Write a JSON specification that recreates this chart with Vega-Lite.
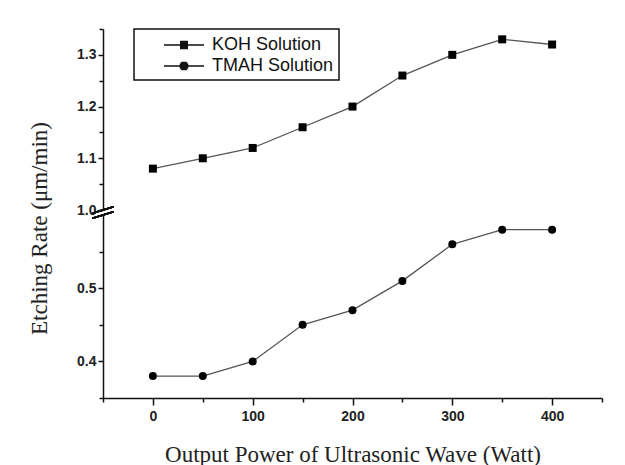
{
  "$schema": "https://vega.github.io/schema/vega-lite/v6.json",
  "padding": {"left": 27, "top": 28, "right": 22, "bottom": 0},
  "background": "white",
  "bounds": "flush",
  "spacing": 5,
  "config": {
    "view": {"stroke": null},
    "legend": {"strokeWidth": 1.5},
    "axis": {
      "grid": false,
      "domainColor": "#111",
      "tickColor": "#111",
      "domainWidth": 1.5,
      "tickWidth": 1.5,
      "labelFont": "Liberation Sans Narrow, Liberation Sans",
      "labelFontSize": 14,
      "labelFontWeight": "bold",
      "labelColor": "#222",
      "titleFont": "Liberation Serif",
      "titleFontSize": 23,
      "titleFontWeight": "normal",
      "titleColor": "#222"
    }
  },
  "datasets": {
    "d": [
      {"power": 0, "rate": 1.08, "series": "KOH Solution"},
      {"power": 50, "rate": 1.10, "series": "KOH Solution"},
      {"power": 100, "rate": 1.12, "series": "KOH Solution"},
      {"power": 150, "rate": 1.16, "series": "KOH Solution"},
      {"power": 200, "rate": 1.20, "series": "KOH Solution"},
      {"power": 250, "rate": 1.26, "series": "KOH Solution"},
      {"power": 300, "rate": 1.30, "series": "KOH Solution"},
      {"power": 350, "rate": 1.33, "series": "KOH Solution"},
      {"power": 400, "rate": 1.32, "series": "KOH Solution"},
      {"power": 0, "rate": 0.38, "series": "TMAH Solution"},
      {"power": 50, "rate": 0.38, "series": "TMAH Solution"},
      {"power": 100, "rate": 0.40, "series": "TMAH Solution"},
      {"power": 150, "rate": 0.45, "series": "TMAH Solution"},
      {"power": 200, "rate": 0.47, "series": "TMAH Solution"},
      {"power": 250, "rate": 0.51, "series": "TMAH Solution"},
      {"power": 300, "rate": 0.56, "series": "TMAH Solution"},
      {"power": 350, "rate": 0.58, "series": "TMAH Solution"},
      {"power": 400, "rate": 0.58, "series": "TMAH Solution"}
    ]
  },
  "vconcat": [
    {
      "width": 499,
      "height": 181,
      "data": {"name": "d"},
      "transform": [{"filter": "datum.series === 'KOH Solution'"}],
      "encoding": {
        "x": {"field": "power", "type": "quantitative", "scale": {"domain": [-50, 450], "nice": false, "zero": false}, "axis": null},
        "y": {
          "field": "rate", "type": "quantitative",
          "scale": {"domain": [1.0, 1.35], "nice": false, "zero": false},
          "axis": {
            "title": null,
            "values": [1.0, 1.05, 1.1, 1.15, 1.2, 1.25, 1.3, 1.35],
            "labelExpr": "round(datum.value*100) % 10 === 0 ? format(datum.value, '.1f') : ''",
            "tickSize": {"expr": "round(datum.value*100) % 10 === 0 ? 5 : 4"},
            "labelPadding": 2
          }
        }
      },
      "layer": [
        {"mark": {"type": "line", "color": "#555", "strokeWidth": 1.3}},
        {"mark": {"type": "point", "shape": "square", "filled": true, "color": "#000", "opacity": 1, "size": 64}},
        {
          "mark": {"type": "point", "filled": false, "color": "#111", "strokeWidth": 1.5, "opacity": 0},
          "encoding": {
            "shape": {
              "field": "series", "type": "nominal",
              "scale": {
                "domain": ["KOH Solution", "TMAH Solution"],
                "range": [
                  "M-2,0H2M-0.4,-0.35H0.4M-0.4,-0.25H0.4M-0.4,-0.15H0.4M-0.4,-0.05H0.4M-0.4,0.05H0.4M-0.4,0.15H0.4M-0.4,0.25H0.4M-0.4,0.35H0.4",
                  "M-2,0H2M-0.28,-0.35H0.28M-0.37,-0.25H0.37M-0.42,-0.15H0.42M-0.45,-0.05H0.45M-0.45,0.05H0.45M-0.42,0.15H0.42M-0.37,0.25H0.37M-0.28,0.35H0.28"
                ]
              },
              "legend": {
                "title": null,
                "orient": "none",
                "legendX": 31,
                "legendY": 0,
                "strokeColor": "#111",
                "padding": 5,
                "rowPadding": 1,
                "symbolSize": 400,
                "symbolOffset": 34,
                "symbolOpacity": 1,
                "symbolStrokeColor": "#111",
                "symbolStrokeWidth": 1.5,
                "labelFont": "Liberation Sans",
                "labelFontSize": 18,
                "labelColor": "#111",
                "labelOffset": 17,
                "labelExpr": "datum.label + '    '"
              }
            }
          }
        },
        {
          "mark": {"type": "point", "shape": "M-1,0.3L1,-0.3", "filled": false, "color": "#111", "strokeWidth": 1.6, "opacity": 1, "size": 440},
          "encoding": {"x": {"datum": -50}, "y": {"datum": 1.0}}
        }
      ]
    },
    {
      "width": 499,
      "height": 183,
      "data": {"name": "d"},
      "transform": [{"filter": "datum.series === 'TMAH Solution'"}],
      "encoding": {
        "x": {
          "field": "power", "type": "quantitative",
          "scale": {"domain": [-50, 450], "nice": false, "zero": false},
          "axis": {
            "title": "Output Power of Ultrasonic Wave (Watt)",
            "values": [-50, 0, 50, 100, 150, 200, 250, 300, 350, 400, 450],
            "labelExpr": "datum.value % 100 === 0 && datum.value >= 0 && datum.value <= 400 ? datum.label : ''",
            "tickSize": {"expr": "datum.value % 100 === 0 ? 7 : 4"},
            "labelPadding": 4,
            "titlePadding": 20
          }
        },
        "y": {
          "field": "rate", "type": "quantitative",
          "scale": {"domain": [0.35, 0.6], "nice": false, "zero": false},
          "axis": {
            "title": "Etching Rate (μm/min)",
            "values": [0.35, 0.4, 0.45, 0.5, 0.55],
            "labelExpr": "round(datum.value*100) % 10 === 0 ? format(datum.value, '.1f') : ''",
            "tickSize": {"expr": "round(datum.value*100) % 10 === 0 ? 5 : 4"},
            "labelPadding": 2,
            "titleX": -52,
            "titleY": 13
          }
        }
      },
      "layer": [
        {"mark": {"type": "line", "color": "#555", "strokeWidth": 1.3}},
        {"mark": {"type": "point", "shape": "circle", "filled": true, "color": "#000", "opacity": 1, "size": 64}},
        {
          "mark": {"type": "point", "shape": "M-1,0.3L1,-0.3", "filled": false, "color": "#111", "strokeWidth": 1.6, "opacity": 1, "size": 440},
          "encoding": {"x": {"datum": -50}, "y": {"datum": 0.6}}
        }
      ]
    }
  ]
}
